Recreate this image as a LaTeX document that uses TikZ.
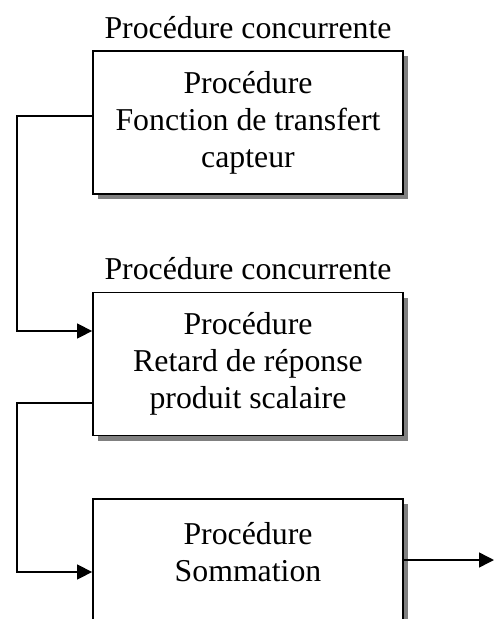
\documentclass[tikz,border=0pt]{standalone}
\usepackage{fontspec}
\setmainfont{Liberation Serif}
\usetikzlibrary{arrows.meta,shadows}
\tikzset{
  proc/.style={draw, line width=1.8pt, fill=white, minimum width=310pt,
    minimum height=143pt, align=center, inner sep=0pt,
    drop shadow={shadow xshift=5pt, shadow yshift=-5pt, fill=gray, opacity=1}},
  link/.style={line width=1.5pt, -{Triangle[length=15pt,width=15pt]}}
}
\begin{document}
\begin{tikzpicture}[x=1pt, y=-1pt, font=\fontsize{31.8}{37}\selectfont,
    label distance=8pt]
  \useasboundingbox (0,0) rectangle (495,619);
  \clip (0,0) rectangle (495,619);

  \node[proc, label={[name=c1]above:Procédure concurrente}] (1) at (248,122.5)
    {Procédure\\Fonction de transfert\\capteur};
  \node[proc, label={[name=c2]above:Procédure concurrente}] (2) at (248,364)
    {Procédure\\Retard de réponse\\produit scalaire};
  \node[proc] (3) at (248,570.5) {Procédure\\Sommation\\\mbox{}};

  \coordinate (o1) at (17,116);
  \coordinate (i1) at (17,331);
  \coordinate (o2) at (17,403);
  \coordinate (i2) at (17,572);
  \coordinate (o3) at (494,560);

  \draw[link] (1.west |- o1) -- (o1) -- (i1) -- (2.west |- i1);
  \draw[link] (2.west |- o2) -- (o2) -- (i2) -- (3.west |- i2);
  \draw[link] (3.east |- o3) -- (o3);
\end{tikzpicture}
\end{document}
